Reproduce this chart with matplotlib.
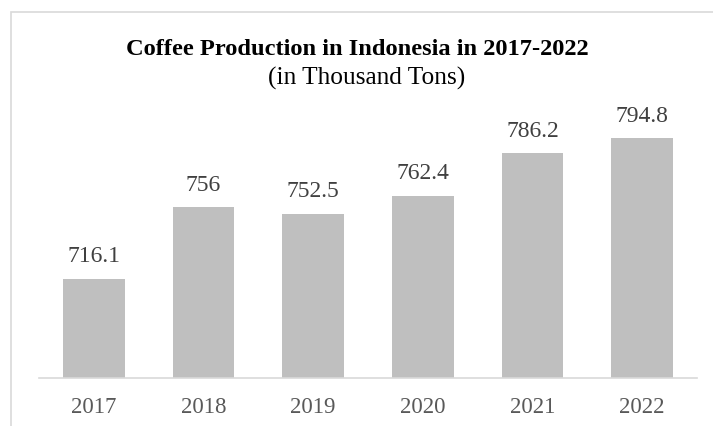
import matplotlib
matplotlib.use("Agg")
import matplotlib.pyplot as plt
from matplotlib.patches import Rectangle

years = ["2017", "2018", "2019", "2020", "2021", "2022"]
production = [716.1, 756, 752.5, 762.4, 786.2, 794.8]
title = "Coffee Production in Indonesia in 2017-2022"
subtitle = "(in Thousand Tons)"

W, H = 713, 427
fig = plt.figure(figsize=(W / 100, H / 100), dpi=100)
fig.patch.set_facecolor("white")

# outer chart border (cropped on right/bottom)
fig.patches.append(Rectangle((10.5 / W, -0.1), 1.2, (H - 12.5) / H + 0.1,
                             transform=fig.transFigure, fill=False,
                             edgecolor="#d9d9d9", linewidth=1.2))

ymin, ymax = 660.5, 800
px_per_unit = 1.788
ax_bottom_px = 379
ax_top_px = ax_bottom_px - (ymax - ymin) * px_per_unit
ax = fig.add_axes([39 / W, (H - ax_bottom_px) / H, (697 - 39) / W,
                   (ax_bottom_px - ax_top_px) / H])
ax.set_facecolor("none")

x = list(range(len(years)))
bars = ax.bar(x, production, width=0.565, color="#bfbfbf", bottom=0, zorder=2)
ax.set_xlim(-0.5, len(years) - 0.5)
ax.set_ylim(ymin, ymax)

for b, v in zip(bars, production):
    ax.annotate(f"{v:g}", (b.get_x() + b.get_width() / 2, b.get_height()),
                xytext=(0, 12.5), textcoords="offset points",
                ha="center", va="baseline", fontsize=17,
                family="Liberation Serif", color="#404040",
                annotation_clip=False)

for s in ["top", "left", "right"]:
    ax.spines[s].set_visible(False)
ax.spines["bottom"].set_color("#d9d9d9")
ax.spines["bottom"].set_linewidth(1.2)
ax.set_yticks([])
ax.set_xticks(x)
ax.set_xticklabels(years, family="Liberation Serif", fontsize=16.5, color="#595959")
ax.tick_params(axis="x", length=0, pad=13)

fig.text(357.5 / W, (H - 55) / H, title, ha="center", va="baseline",
         fontsize=17.6, fontweight="bold", family="Liberation Serif", color="black")
fig.text(367 / W, (H - 85) / H, subtitle, ha="center", va="baseline",
         fontsize=18.3, family="Liberation Serif", color="black")

fig.savefig("out.png", dpi=100, facecolor="white")
